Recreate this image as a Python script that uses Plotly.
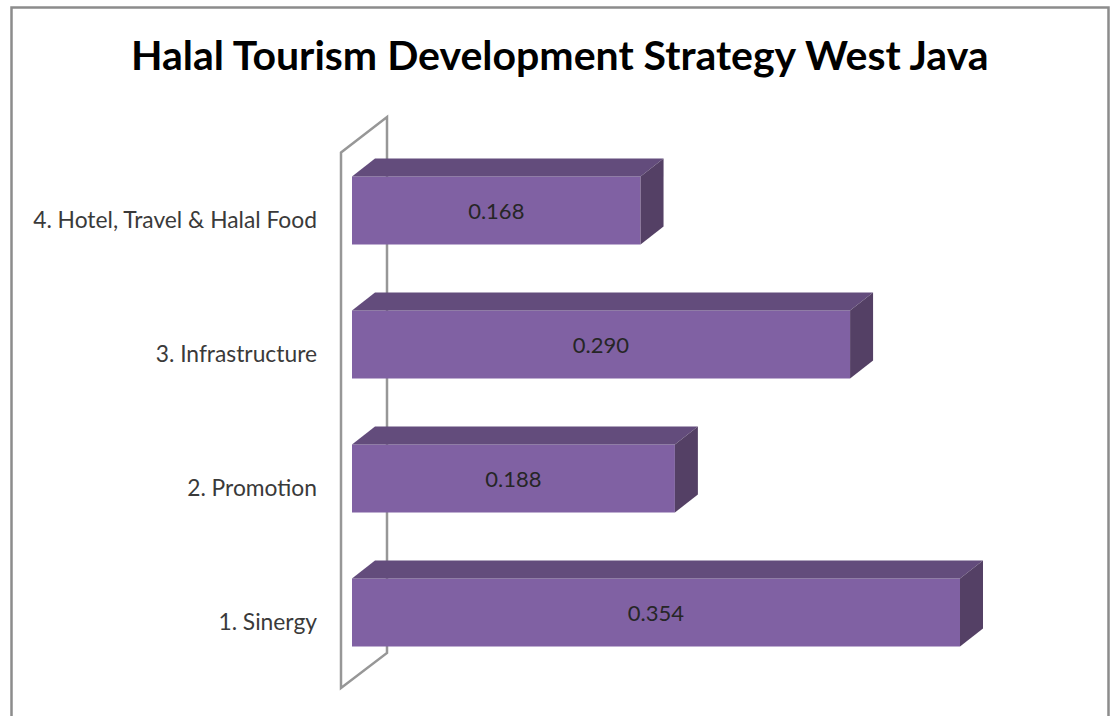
import plotly.graph_objects as go

# Data
categories = ["1. Sinergy", "2. Promotion", "3. Infrastructure", "4. Hotel, Travel & Halal Food"]
values = [0.354, 0.188, 0.290, 0.168]
value_labels = ["0.354", "0.188", "0.290", "0.168"]
title_text = "Halal Tourism Development Strategy West Java"

# Layout constants (pixels in the 1114x716 picture)
W, H = 1114, 716
X0_PX = 352.0           # pixel of value 0
PX_PER_UNIT = 608.0 / 0.354
Y0_PX = 612.5           # pixel of category 0 centre
PX_PER_CAT = 134.0
BAR_PX = 68.0
DX_PX, DY_PX = 23.0, 18.0

def xv(px):
    return (px - X0_PX) / PX_PER_UNIT

def yv(py):
    return (Y0_PX - py) / PX_PER_CAT

dx = DX_PX / PX_PER_UNIT
dy = DY_PX / PX_PER_CAT
half = BAR_PX / PX_PER_CAT / 2
positions = list(range(len(categories)))

fig = go.Figure()

fig.add_trace(go.Bar(
    y=positions, x=values, orientation="h", width=2 * half,
    marker=dict(color="#8061a3", line=dict(width=0)),
    text=value_labels, textposition="inside", insidetextanchor="middle",
    textangle=0, constraintext="none",
    textfont=dict(family="Lato, 'Noto Sans', sans-serif", size=22, color="#262626"),
    hoverinfo="skip", showlegend=False,
))

# Top and side faces of each bar, derived from the values
for p, v in zip(positions, values):
    fig.add_trace(go.Scatter(
        x=[0, v, v + dx, dx, 0],
        y=[p + half, p + half, p + half + dy, p + half + dy, p + half],
        mode="lines", fill="toself", fillcolor="#634c7c",
        line=dict(width=0, color="#634c7c"), hoverinfo="skip", showlegend=False,
    ))
    fig.add_trace(go.Scatter(
        x=[v, v + dx, v + dx, v, v],
        y=[p + half, p + half + dy, p - half + dy, p - half, p + half],
        mode="lines", fill="toself", fillcolor="#544065",
        line=dict(width=0, color="#544065"), hoverinfo="skip", showlegend=False,
    ))

wall_l, wall_r = xv(341), xv(387)
wall_path = (
    f"M {wall_l} {yv(152.5)} L {wall_r} {yv(117)} L {wall_r} {yv(653)} "
    f"L {wall_l} {yv(688)} Z"
)

fig.update_layout(
    width=W, height=H,
    margin=dict(l=0, r=0, t=0, b=0),
    paper_bgcolor="white", plot_bgcolor="white",
    showlegend=False,
    xaxis=dict(range=[xv(0), xv(W)], domain=[0, 1], visible=False),
    yaxis=dict(
        range=[yv(H), yv(0)], domain=[0, 1],
        anchor="free", position=X0_PX / W,
        tickmode="array",
        tickvals=[p - 10 / PX_PER_CAT for p in positions],
        ticktext=categories,
        ticks="", showgrid=False, zeroline=False, showline=False,
        ticklabelstandoff=35,
        tickfont=dict(family="Lato, 'Noto Sans', sans-serif", size=22.8, color="#3a3a3a"),
    ),
    shapes=[
        dict(type="path", path=wall_path, xref="x", yref="y", layer="below",
             line=dict(color="#979797", width=2.5)),
        dict(type="path", xref="paper", yref="paper", layer="above",
             path=f"M {11.5/W} 0 L {11.5/W} {1-7.5/H} L {1108.5/W} {1-7.5/H} L {1108.5/W} 0",
             line=dict(color="#8c8c8c", width=2.5)),
    ],
    annotations=[
        dict(text=f"<b>{title_text}</b>", xref="paper", yref="paper",
             x=559.5 / W, y=1 - 54.5 / H, xanchor="center", yanchor="middle", showarrow=False,
             font=dict(family="Lato, 'Noto Sans', sans-serif", size=41, color="#000000")),
    ],
)

fig.write_html(
    "out.html",
    config={"displayModeBar": False},
    post_script="document.body.style.margin='0';document.body.style.overflow='hidden';",
)
